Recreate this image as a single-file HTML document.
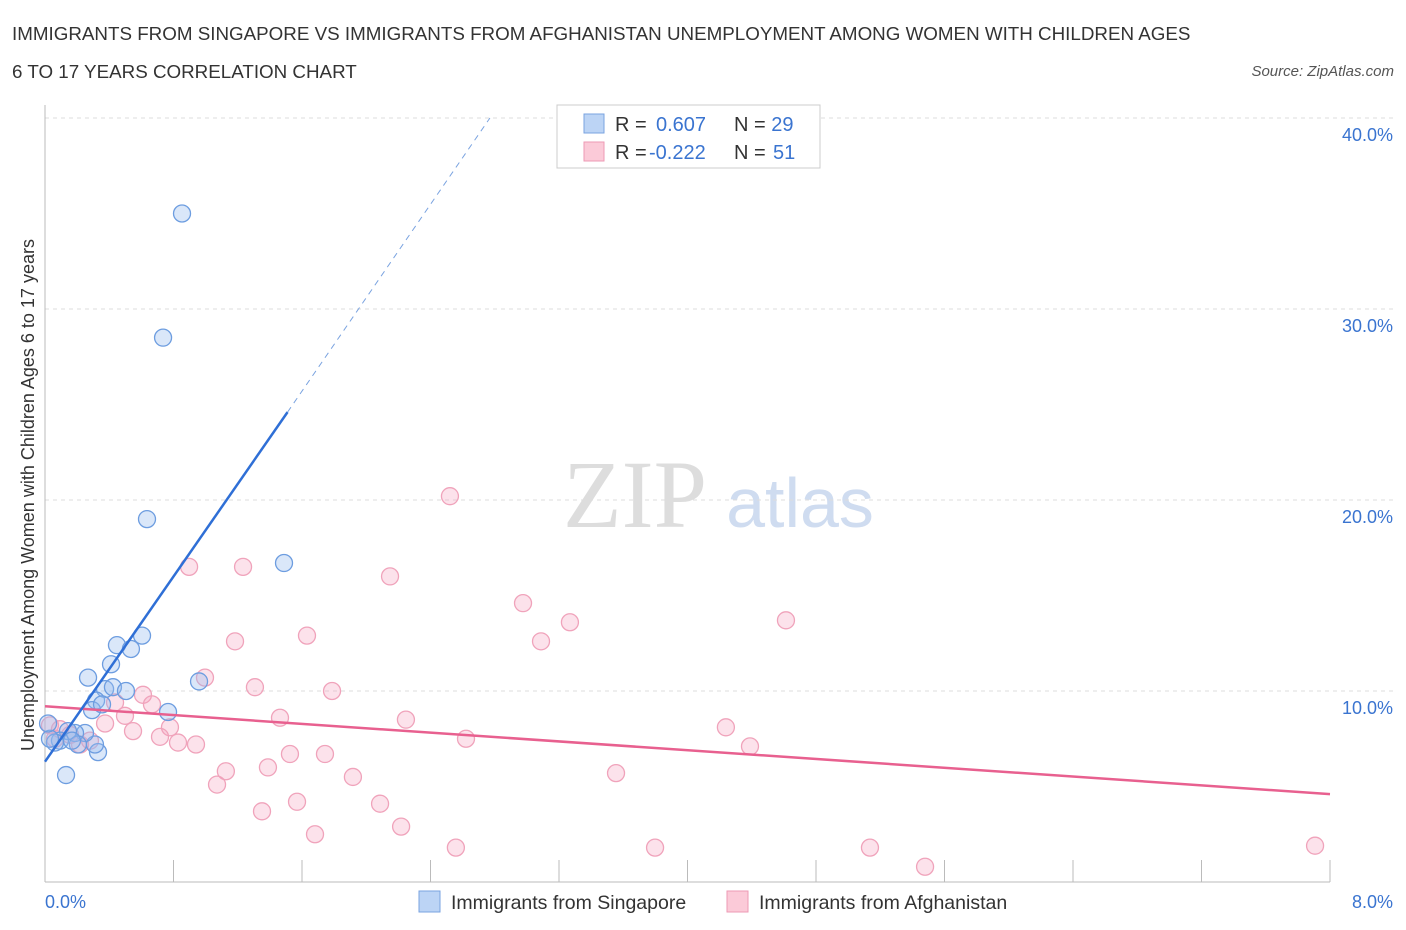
<!DOCTYPE html>
<html><head><meta charset="utf-8"><style>
body{margin:0;background:#fff;font-family:"Liberation Sans",sans-serif;}
svg{display:block}
</style></head><body>
<svg id="chart" width="1406" height="930" xmlns="http://www.w3.org/2000/svg">
<text x="12" y="40" font-size="18.8" fill="#333">IMMIGRANTS FROM SINGAPORE VS IMMIGRANTS FROM AFGHANISTAN UNEMPLOYMENT AMONG WOMEN WITH CHILDREN AGES</text>
<text x="12" y="78" font-size="18.8" fill="#333">6 TO 17 YEARS CORRELATION CHART</text>
<text x="1394" y="76" font-size="15" fill="#555" font-style="italic" text-anchor="end">Source: ZipAtlas.com</text>
<text x="635" y="527" font-size="96" fill="#ddd" font-family="Liberation Serif,serif" text-anchor="middle">ZIP</text>
<text x="800" y="527" font-size="70" fill="#cfdcf0" text-anchor="middle">atlas</text>
<g id="grid"></g>
<g id="axes"></g>
<g id="marks"></g>
<text transform="translate(34,495) rotate(-90)" font-size="18" fill="#333" text-anchor="middle">Unemployment Among Women with Children Ages 6 to 17 years</text>
<g>
<rect x="557" y="105" width="263" height="63" fill="#fff" stroke="#ccc"/>
<rect x="584" y="114" width="20" height="19" fill="#bcd4f5" stroke="#7aa3e0"/>
<rect x="584" y="142" width="20" height="19" fill="#fbcad8" stroke="#ee9ab4"/>
<text x="615" y="131" font-size="20" fill="#333">R = <tspan fill="#3a74d0" x="656">0.607</tspan><tspan x="734" fill="#333">N = </tspan><tspan fill="#3a74d0">29</tspan></text>
<text x="615" y="159" font-size="20" fill="#333">R = <tspan fill="#3a74d0" x="649">-0.222</tspan><tspan x="734" fill="#333">N = </tspan><tspan fill="#3a74d0" x="773">51</tspan></text>
</g>
<g>
<rect x="419" y="891" width="21" height="21" fill="#bcd4f5" stroke="#7aa3e0"/>
<text x="451" y="909" font-size="19.5" fill="#333">Immigrants from Singapore</text>
<rect x="727" y="891" width="21" height="21" fill="#fbcad8" stroke="#ee9ab4"/>
<text x="759" y="909" font-size="19.5" fill="#333">Immigrants from Afghanistan</text>
</g>
</svg>
<script>
const yTicks=[10,20,30,40];
const yTickLabels=["10.0%","20.0%","30.0%","40.0%"];
const xTickLabels=["0.0%","8.0%"];
const blueX=[0.853,0.735,0.635,1.488,0.604,0.448,0.535,0.411,0.268,0.959,0.374,0.423,0.504,0.318,0.766,0.293,0.131,0.330,0.311,0.249,0.187,0.143,0.093,0.062,0.031,0.205,0.168,0.019,0.355];
const blueY=[35.0,28.5,19.0,16.7,12.9,12.4,12.2,11.4,10.7,10.5,10.1,10.2,10.0,9.5,8.9,9.0,5.6,6.8,7.2,7.8,7.8,7.9,7.4,7.3,7.5,7.2,7.4,8.3,9.3];
const pinkX=[2.521,0.897,1.233,2.148,2.976,3.268,4.613,3.088,1.183,1.631,0.996,1.307,1.787,0.610,0.666,0.436,1.463,2.247,0.778,0.498,0.374,0.548,0.716,0.828,0.940,2.621,4.239,4.389,1.525,1.743,1.388,1.126,1.917,3.555,1.071,1.569,2.086,1.351,2.217,1.681,2.558,3.798,5.136,5.479,7.907,0.218,0.156,0.093,0.031,0.280,0.062];
const pinkY=[20.2,16.5,16.5,16.0,14.6,13.6,13.7,12.6,12.6,12.9,10.7,10.2,10.0,9.8,9.3,9.4,8.6,8.5,8.1,8.7,8.3,7.9,7.6,7.3,7.2,7.5,8.1,7.1,6.7,6.7,6.0,5.8,5.5,5.7,5.1,4.2,4.1,3.7,2.9,2.5,1.8,1.8,1.8,0.8,1.9,7.2,7.7,8.0,8.2,7.4,7.5];
const blueLine=[0,6.3,1.51,24.6];
const blueDash=[1.51,24.6,2.77,40.0];
const pinkLine=[0,9.2,8,4.6];
const X0=45,X1=1330,Y0=882,YPER=19.1;
const sx=v=>X0+(X1-X0)*v/8;
const sy=v=>Y0-YPER*v;
const NS="http://www.w3.org/2000/svg";
function mk(tag,attrs,parent){const e=document.createElementNS(NS,tag);for(const k in attrs)e.setAttribute(k,attrs[k]);parent.appendChild(e);return e;}
const grid=document.getElementById('grid'),axes=document.getElementById('axes'),marks=document.getElementById('marks');
yTicks.forEach((t,i)=>{
 const l=mk('line',{x1:45,x2:1395,y1:sy(t),y2:sy(t),stroke:'#ddd','stroke-dasharray':'4,4'},grid);
 
 
 const tx=mk('text',{x:1393,y:sy(t)+23,'font-size':18,fill:'#3a74d0','text-anchor':'end'},axes);
 tx.textContent=yTickLabels[i];
 
 
});
const ax=mk('line',{x1:45,x2:1330,y1:882,y2:882,stroke:'#bbb'},axes);


const ay=mk('line',{x1:45,x2:45,y1:105,y2:882,stroke:'#bbb'},axes);


for(let i=1;i<=10;i++){
 const x=45+128.5*i; if(x>1331)break;
 const t=mk('line',{x1:x,x2:x,y1:860,y2:882,stroke:'#bbb'},axes);
 
 
}
const xl0=mk('text',{x:45,y:908,'font-size':18,fill:'#3a74d0'},axes);
xl0.textContent=xTickLabels[0];


const xl1=mk('text',{x:1393,y:908,'font-size':18,fill:'#3a74d0','text-anchor':'end'},axes);
xl1.textContent=xTickLabels[1];


pinkX.forEach((v,i)=>{
 const c=mk('circle',{cx:sx(v),cy:sy(pinkY[i]),r:8.5,fill:'rgba(246,160,188,0.3)',stroke:'#f0a3bb','stroke-width':1.3},marks);
 
 
});
blueX.forEach((v,i)=>{
 const c=mk('circle',{cx:sx(v),cy:sy(blueY[i]),r:8.5,fill:'rgba(150,186,238,0.35)',stroke:'#6d9de0','stroke-width':1.3},marks);
 
 
});
const pl=mk('line',{x1:sx(pinkLine[0]),y1:sy(pinkLine[1]),x2:sx(pinkLine[2]),y2:sy(pinkLine[3]),stroke:'#e8608f','stroke-width':2.5},marks);


const bl=mk('line',{x1:sx(blueLine[0]),y1:sy(blueLine[1]),x2:sx(blueLine[2]),y2:sy(blueLine[3]),stroke:'#2f6fd6','stroke-width':2.5},marks);


const bd=mk('line',{x1:sx(blueDash[0]),y1:sy(blueDash[1]),x2:sx(blueDash[2]),y2:sy(blueDash[3]),stroke:'#7aa3e0','stroke-width':1,'stroke-dasharray':'6,5'},marks);


</script>
</body></html>
